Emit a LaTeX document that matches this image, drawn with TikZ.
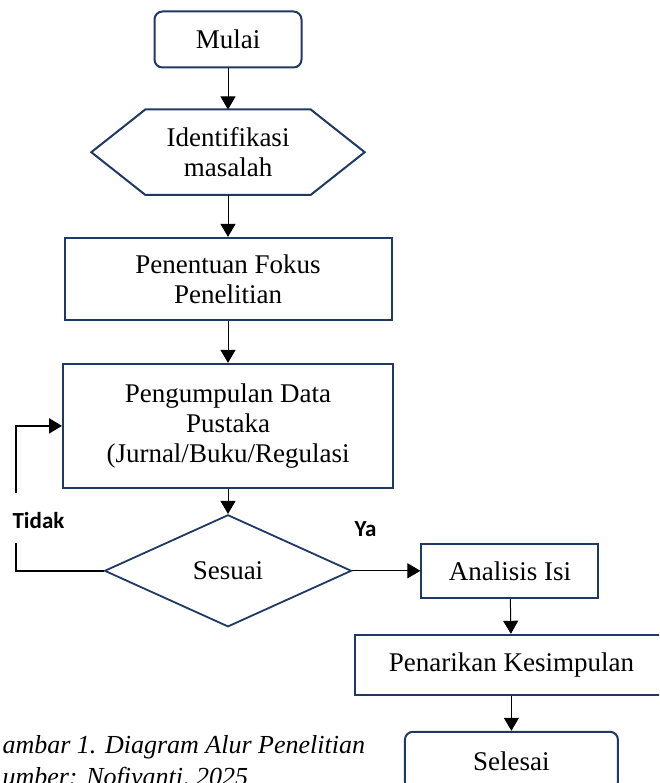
\documentclass[tikz,border=0pt]{standalone}
\usepackage{fontspec}
\setmainfont{Liberation Serif}
\newfontfamily\labelfont{Carlito}
\usetikzlibrary{shapes.geometric,arrows.meta,positioning}
\definecolor{boxline}{HTML}{203864}
\newcommand{\flowfont}{\fontsize{27}{30}\selectfont}
\newcommand{\captfont}{\fontsize{26}{32}\selectfont\itshape}
\tikzset{node distance=40pt, % Gap between two steps
         terminal/.style={ % Start and end of the flow
           rectangle, rounded corners=8pt,
           draw=boxline, line width=2pt,
           font=\flowfont,
           minimum width=147pt, minimum height=56pt},
         prep/.style={ % Hexagon step, outline drawn by hand
           rectangle, font=\flowfont, align=center,
           minimum width=273pt, minimum height=85pt},
         hexline/.style={draw=boxline, line width=2pt, line join=miter},
         process/.style={ % Plain steps
           rectangle, draw=boxline, line width=2pt,
           font=\flowfont, align=center},
         decision/.style={ % Check
           diamond, aspect=2.2, draw=boxline, line width=1.8pt,
           font=\flowfont, inner sep=0pt,
           minimum width=247pt, minimum height=112pt},
         answer/.style={font=\labelfont\bfseries\fontsize{23}{26}\selectfont},
         loopline/.style={line width=2pt},
         every edge/.style={ % Arrows between steps
           draw,
           -{Triangle[length=13pt,width=15pt]},
           line width=1pt}}

\begin{document}
\begin{tikzpicture}[x=1pt,y=-1pt]
\useasboundingbox (0,0) rectangle (659,783);
\clip (0,0) rectangle (659,783);

\node[terminal] (mulai) at (228,39.5) {Mulai};
\node[prep, below=41pt of mulai] (identifikasi) {Identifikasi\\masalah};
\draw[hexline] ([xshift=54pt]identifikasi.north west) -- ([xshift=-54pt]identifikasi.north east)
  -- (identifikasi.east) -- ([xshift=-54pt]identifikasi.south east)
  -- ([xshift=54pt]identifikasi.south west) -- (identifikasi.west) -- cycle;
\node[process, below=42pt of identifikasi, minimum width=327pt, minimum height=82pt] (penentuan) {Penentuan Fokus\\Penelitian};
\node[process, below=42pt of penentuan, minimum width=330pt, minimum height=124pt] (pengumpulan) {Pengumpulan Data\\Pustaka\\(Jurnal/Buku/Regulasi};
\node[decision, below=25pt of pengumpulan] (sesuai) {Sesuai};
\node[process, right=68pt of sesuai, minimum width=177pt, minimum height=54pt] (analisis) {Analisis Isi};
\node[process, below=35pt of analisis, xshift=1.5pt, minimum width=312pt, minimum height=60pt] (penarikan) {Penarikan Kesimpulan};
\node[terminal, below=35pt of penarikan, minimum width=213pt, minimum height=58pt] (selesai) {Selesai};

\node[answer] (tidak) at (38.5,521) {Tidak};
\node[answer] (ya) at (365.5,529) {Ya};
\coordinate (looptop) at (16,493);
\coordinate (loopbot) at (16,543);

\node[anchor=base west, font=\captfont] (caption1) at (-1,753) {ambar 1. Diagram Alur Penelitian};
\node[anchor=base west, font=\captfont] (caption2) at (-1,785) {umber: Nofiyanti, 2025};

\draw (mulai) edge (identifikasi);
\draw (identifikasi) edge (penentuan);
\draw (penentuan) edge (pengumpulan);
\draw (pengumpulan) edge (sesuai);
\draw (sesuai) edge (analisis);
\draw (analisis) edge (penarikan);
\draw (penarikan) edge (selesai);

\draw[loopline] (sesuai.west) -| (loopbot);
\draw[loopline, -{Triangle[length=13pt,width=15pt]}] (looptop) |- (pengumpulan.west);

\end{tikzpicture}
\end{document}
